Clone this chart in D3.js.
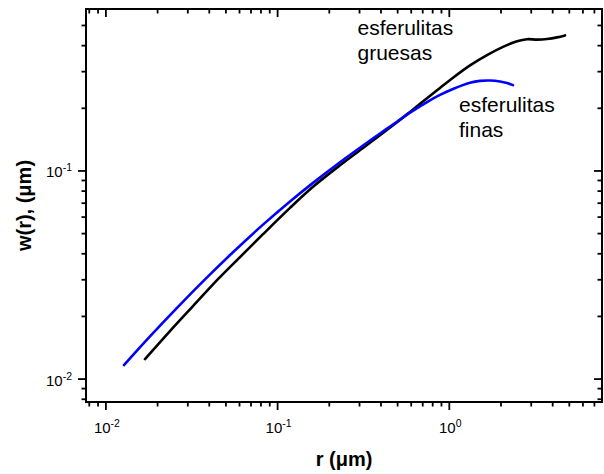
<!DOCTYPE html>
<html>
<head>
<meta charset="utf-8">
<script src="https://cdn.jsdelivr.net/npm/d3@7"></script>
<style>
  html, body { margin: 0; padding: 0; background: #fff; }
  svg { display: block; }
  text { font-family: "Liberation Sans", Arial, sans-serif; }
</style>
</head>
<body>
<svg id="chart" width="604" height="474"></svg>
<script>
// ---- data ----
const blueR = [0.01274, 0.01806, 0.02595, 0.03778, 0.05497, 0.08222, 0.1181, 0.1608, 0.2309, 0.3144, 0.3948, 0.4958, 0.5905, 0.7415, 0.8826, 1.051, 1.320, 1.509, 1.726, 1.974, 2.168, 2.350];
const blueW = [0.01167, 0.01603, 0.02198, 0.03012, 0.04068, 0.05522, 0.07140, 0.08766, 0.1101, 0.1325, 0.1514, 0.1724, 0.1905, 0.2143, 0.2318, 0.2477, 0.2653, 0.2710, 0.2721, 0.2692, 0.2646, 0.2584];
const blackR = [0.01689, 0.02361, 0.03216, 0.04496, 0.06286, 0.08222, 0.1181, 0.1608, 0.2309, 0.3144, 0.3948, 0.4958, 0.5905, 0.7415, 0.8826, 1.051, 1.320, 1.658, 2.055, 2.480, 2.835, 3.242, 3.707, 4.240, 4.718];
const blackW = [0.01247, 0.01700, 0.02241, 0.03020, 0.03982, 0.04967, 0.06645, 0.08389, 0.1065, 0.1289, 0.1485, 0.1715, 0.1922, 0.2234, 0.2505, 0.2805, 0.3216, 0.3604, 0.3948, 0.4199, 0.4297, 0.4278, 0.4307, 0.4384, 0.4481];
const xDomain = [0.007657, 7.75];
const yDomain = [0.00776, 0.6];
const xMajor = [0.01, 0.1, 1];
const xMajorExp = ["-2", "-1", "0"];
const xMinor = [0.008, 0.009, 0.02, 0.03, 0.04, 0.05, 0.06, 0.07, 0.08, 0.09, 0.2, 0.3, 0.4, 0.5, 0.6, 0.7, 0.8, 0.9, 2, 3, 4, 5, 6, 7];
const yMajor = [0.01, 0.1];
const yMajorExp = ["-2", "-1"];
const yMinor = [0.008, 0.009, 0.02, 0.03, 0.04, 0.05, 0.06, 0.07, 0.08, 0.09, 0.2, 0.3, 0.4, 0.5];
const seriesLabels = [["esferulitas", "gruesas"], ["esferulitas", "finas"]];
const xTitle = "r (μm)";
const yTitle = "w(r), (μm)";

// ---- layout ----
const L = 86, R = 602, T = 9, B = 402;
const svg = d3.select("#chart");
const x = d3.scaleLog().domain(xDomain).range([L, R]);
const y = d3.scaleLog().domain(yDomain).range([B, T]);

const majorLen = 8, minorLen = 4.5;
const g = svg.append("g");

// curves
const line = d3.line().x(d => x(d[0])).y(d => y(d[1])).curve(d3.curveCatmullRom.alpha(0.5));
g.append("path").datum(d3.zip(blackR, blackW))
  .attr("d", line).attr("fill", "none").attr("stroke", "#000").attr("stroke-width", 2.6)
  .attr("stroke-linejoin", "round").attr("stroke-linecap", "round");
g.append("path").datum(d3.zip(blueR, blueW))
  .attr("d", line).attr("fill", "none").attr("stroke", "#0000ff").attr("stroke-width", 2.6)
  .attr("stroke-linejoin", "round").attr("stroke-linecap", "round");

// ticks: x ticks point downward on both bottom (outward) and top (inward);
// y ticks point leftward on both left (outward) and right (inward)
const ticks = g.append("g").attr("stroke", "#000").attr("stroke-width", 1.8);
const xT = xMajor.map(v => [v, majorLen]).concat(xMinor.map(v => [v, minorLen]));
const yT = yMajor.map(v => [v, majorLen]).concat(yMinor.map(v => [v, minorLen]));
[B, T].forEach(y0 => {
  ticks.selectAll(null).data(xT).enter().append("line")
    .attr("x1", d => x(d[0])).attr("x2", d => x(d[0]))
    .attr("y1", y0).attr("y2", d => y0 + d[1]);
});
[L, R].forEach(x0 => {
  ticks.selectAll(null).data(yT).enter().append("line")
    .attr("y1", d => y(d[0])).attr("y2", d => y(d[0]))
    .attr("x1", x0).attr("x2", d => x0 - d[1]);
});

// frame
g.append("rect").attr("x", L).attr("y", T).attr("width", R - L).attr("height", B - T)
  .attr("fill", "none").attr("stroke", "#000").attr("stroke-width", 2);

// tick labels
xMajor.forEach((v, i) => {
  const t = g.append("text").attr("x", x(v) + 1).attr("y", 433)
    .attr("text-anchor", "middle").attr("font-size", 15).attr("fill", "#000");
  t.append("tspan").text("10");
  t.append("tspan").attr("dy", -6).attr("font-size", 10.5).text(xMajorExp[i]);
});
yMajor.forEach((v, i) => {
  const t = g.append("text").attr("x", 72).attr("y", y(v) + 6.5)
    .attr("text-anchor", "end").attr("font-size", 15).attr("fill", "#000");
  t.append("tspan").text("10");
  t.append("tspan").attr("dy", -6).attr("font-size", 10.5).text(yMajorExp[i]);
});

// axis titles
g.append("text").attr("x", (L + R) / 2).attr("y", 466)
  .attr("text-anchor", "middle").attr("font-size", 20).attr("font-weight", "bold").text(xTitle);
g.append("text").attr("transform", `translate(31,${(T + B) / 2}) rotate(-90)`)
  .attr("text-anchor", "middle").attr("font-size", 20).attr("font-weight", "bold").text(yTitle);

// series annotations
const labelPos = [[357.5, 35], [459, 111.5]];
seriesLabels.forEach((lines, i) => {
  lines.forEach((s, j) => {
    g.append("text").attr("x", labelPos[i][0]).attr("y", labelPos[i][1] + j * 25)
      .attr("font-size", 21).attr("fill", "#000").text(s);
  });
});
</script>
</body>
</html>
